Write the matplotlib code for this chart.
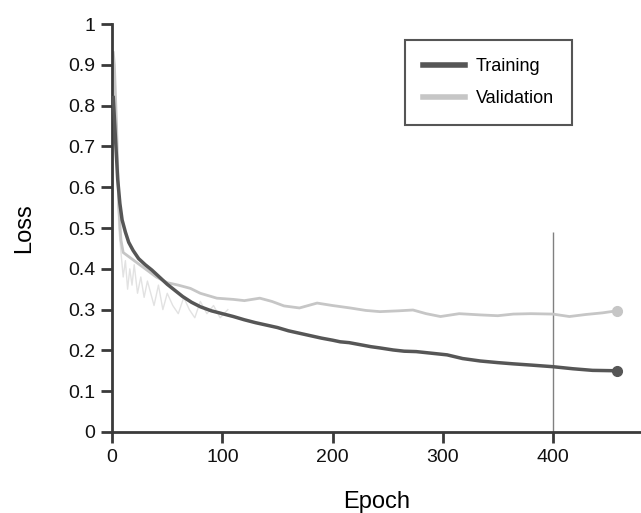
import numpy as np
import matplotlib.pyplot as plt

plt.rcParams['font.family'] = ['Liberation Sans', 'DejaVu Sans']

# smoothed training loss
train_epoch = [1, 3, 5, 7, 9, 12, 15, 19, 24, 30, 36, 42, 50, 57, 64, 72, 80, 90,
               100, 110, 120, 130, 140, 150, 160, 170, 180, 190, 200, 207, 215, 225,
               235, 243, 255, 265, 276, 290, 304, 318, 334, 350, 364, 380, 400, 418,
               436, 458]
train_loss = [0.82, 0.72, 0.62, 0.56, 0.52, 0.49, 0.465, 0.445, 0.425, 0.41, 0.397,
              0.382, 0.362, 0.347, 0.332, 0.318, 0.307, 0.297, 0.29, 0.283, 0.275,
              0.268, 0.262, 0.256, 0.248, 0.242, 0.236, 0.23, 0.225, 0.221, 0.219,
              0.214, 0.209, 0.206, 0.201, 0.198, 0.197, 0.193, 0.189, 0.18, 0.174,
              0.17, 0.167, 0.164, 0.160, 0.155, 0.151, 0.150]

# smoothed validation loss
val_epoch = [1, 2, 4, 6, 8, 10, 15, 20, 30, 40, 50, 60, 71, 80, 95, 110, 120, 134,
             145, 156, 170, 186, 200, 216, 230, 243, 260, 273, 285, 298, 315, 334,
             350, 364, 380, 400, 415, 430, 445, 458]
val_loss = [0.93, 0.90, 0.75, 0.55, 0.47, 0.44, 0.43, 0.42, 0.40, 0.38, 0.366, 0.36,
            0.352, 0.34, 0.328, 0.325, 0.322, 0.328, 0.32, 0.309, 0.304, 0.316, 0.31,
            0.304, 0.298, 0.295, 0.297, 0.299, 0.29, 0.283, 0.29, 0.287, 0.285, 0.289,
            0.29, 0.289, 0.283, 0.288, 0.292, 0.297]

# faint raw (unsmoothed) validation values in the early epochs
raw_epoch = [2, 4, 6, 8, 10, 12, 14, 16, 18, 20, 23, 26, 29, 32, 35, 38, 42, 46, 50,
             55, 60, 65, 70, 75, 80, 86, 92, 98, 105]
raw_loss = [0.90, 0.70, 0.50, 0.44, 0.38, 0.42, 0.35, 0.40, 0.36, 0.41, 0.34, 0.38,
            0.33, 0.37, 0.34, 0.31, 0.36, 0.30, 0.34, 0.31, 0.29, 0.33, 0.30, 0.28,
            0.32, 0.29, 0.31, 0.28, 0.30]

fig = plt.figure(figsize=(6.41, 5.13), dpi=100)
ax = fig.add_axes([0.175, 0.158, 0.825, 0.795])

ax.plot(raw_epoch, raw_loss, color='#e2e2e2', lw=1.0, zorder=1)
ax.plot(val_epoch, val_loss, color='#c6c6c6', lw=2, label='Validation', zorder=2)
ax.plot(train_epoch, train_loss, color='#565656', lw=2.5, label='Training', zorder=3)
ax.plot(val_epoch[-1], val_loss[-1], 'o', color='#c6c6c6', ms=7, zorder=4)
ax.plot(train_epoch[-1], train_loss[-1], 'o', color='#565656', ms=7, zorder=4)

ax.vlines(400, 0, 0.49, color='#808080', lw=1, zorder=0)

ax.set_xlim(0, 480)
ax.set_ylim(0, 1)
ax.set_xticks([0, 100, 200, 300, 400])
ax.set_yticks(np.arange(0, 1.01, 0.1))
ax.set_yticklabels(['0', '0.1', '0.2', '0.3', '0.4', '0.5', '0.6', '0.7', '0.8', '0.9', '1'])

for s in ['top', 'right']:
    ax.spines[s].set_visible(False)
for s in ['left', 'bottom']:
    ax.spines[s].set_color('#3a3a3a')
    ax.spines[s].set_linewidth(2)
ax.tick_params(direction='out', length=8, width=2, color='#3a3a3a', labelsize=14,
               labelcolor='#111111', pad=4)

ax.set_xlabel('Epoch', fontsize=17, labelpad=18)
ax.set_ylabel('Loss', fontsize=17, labelpad=24)

h, l = ax.get_legend_handles_labels()
leg = ax.legend(h[::-1], l[::-1], loc='upper left', bbox_to_anchor=(0.554, 0.961),
                frameon=True, fancybox=False, fontsize=13, handlelength=2.3,
                borderpad=1.0, labelspacing=0.85, handletextpad=0.6, borderaxespad=0)
leg.get_frame().set_edgecolor('#555555')
leg.get_frame().set_linewidth(1.5)
leg.get_frame().set_facecolor('white')
leg.get_frame().set_alpha(1)
for line in leg.get_lines():
    line.set_linewidth(4)

fig.savefig('out.png', dpi=100)
